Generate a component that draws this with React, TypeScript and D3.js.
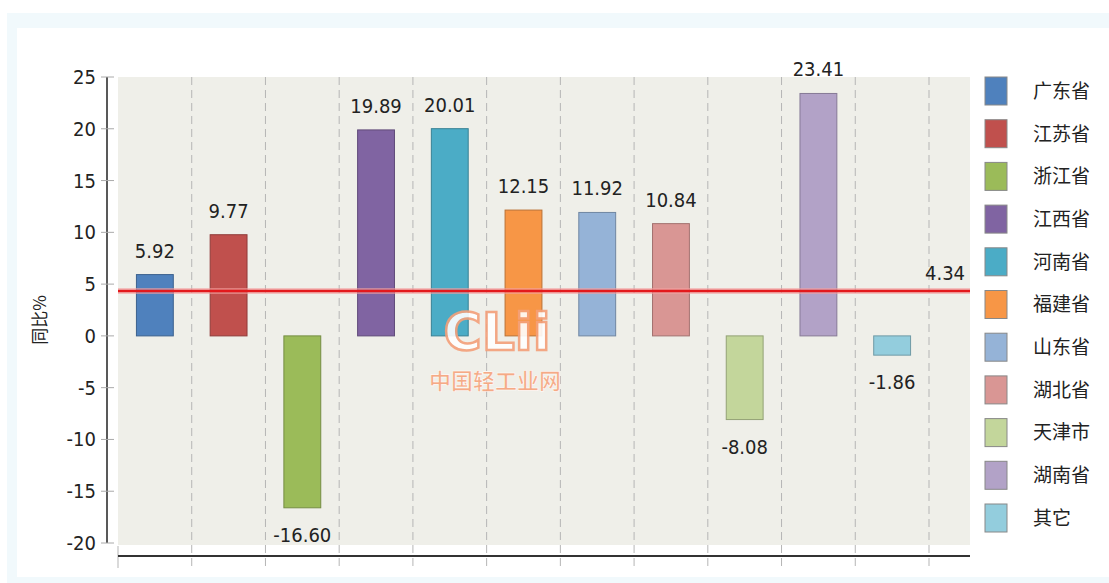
import React from "react";
import * as d3 from "d3";

const categories = ["广东省", "江苏省", "浙江省", "江西省", "河南省", "福建省", "山东省", "湖北省", "天津市", "湖南省", "其它"];
const values = [5.92, 9.77, -16.6, 19.89, 20.01, 12.15, 11.92, 10.84, -8.08, 23.41, -1.86];
const colors = ["#4f81bd", "#c0504d", "#9bbb59", "#8064a2", "#4bacc6", "#f79646", "#95b3d7", "#d99694", "#c3d69b", "#b2a2c7", "#93cddd"];
const average = 4.34;
const yTicks = [25, 20, 15, 10, 5, 0, -5, -10, -15, -20];

const numFont = "'Liberation Sans Narrow', 'DejaVu Sans Condensed', 'Roboto', sans-serif";
const cjkFont = "'Noto Sans CJK SC', sans-serif";

const App = () => {
  const left = 118;
  const right = 970;
  const top = 77;
  const bottom = 543;
  const axisY = 556;

  const x = d3
    .scaleBand()
    .domain(categories)
    .range([left, 929])
    .paddingInner(0.5)
    .paddingOuter(0.25);
  const y = d3.scaleLinear().domain([-20, 25]).range([bottom, top]);
  const step = x.step();
  const grid = categories.map((c) => (x(c) as number) + x.bandwidth() + step * 0.25);

  return (
    <div style={{ position: "absolute", left: 0, top: 0 }}>
      <svg width={1109} height={583} style={{ display: "block" }}>
        <rect x={0} y={0} width={1109} height={583} fill="#fff" />
        <rect x={7} y={13} width={1102} height={570} fill="#f1f9fc" />
        <rect x={17} y={28} width={1092} height={549} fill="#fff" />

        {/* plot background */}
        <rect x={left} y={top} width={right - left} height={bottom - top + 2} fill="#efefe9" />

        {/* dashed grid */}
        {grid.map((gx, i) => (
          <line key={i} x1={gx} x2={gx} y1={top} y2={568} stroke="#b5b5b5" strokeDasharray="8,5" />
        ))}
        <line x1={left} x2={left} y1={546} y2={568} stroke="#b5b5b5" />

        {/* y axis */}
        <line x1={107} x2={107} y1={top} y2={bottom} stroke="#222" strokeWidth={1.5} />
        {yTicks.map((t) => (
          <g key={t}>
            <line x1={101} x2={114} y1={y(t)} y2={y(t)} stroke="#aaa" />
            <text x={96} y={y(t)} dy="0.35em" textAnchor="end" fontFamily={numFont} fontSize={20} fill="#222">
              {t}
            </text>
          </g>
        ))}
        <text
          transform={`translate(46,${(top + bottom) / 2 + 10}) rotate(-90)`}
          textAnchor="middle"
          fontFamily={cjkFont}
          fontSize={17}
          fill="#222"
        >
          同比%
        </text>

        {/* bars */}
        {categories.map((c, i) => {
          const v = values[i];
          const bx = x(c) as number;
          const y0 = y(Math.max(0, v));
          const y1 = y(Math.min(0, v));
          return (
            <g key={c}>
              <rect
                x={bx}
                y={y0}
                width={x.bandwidth()}
                height={y1 - y0}
                fill={colors[i]}
                stroke={d3.color(colors[i])!.darker(0.8).toString()}
                strokeWidth={1}
              />
              <text
                x={bx + x.bandwidth() / 2}
                y={v >= 0 ? y0 - 17 : y1 + 34}
                textAnchor="middle"
                fontFamily={numFont}
                fontSize={20}
                fill="#222"
              >
                {v.toFixed(2)}
              </text>
            </g>
          );
        })}

        {/* average line */}
        <line x1={left} x2={right} y1={y(average)} y2={y(average)} stroke="#f4a0a0" strokeWidth={6} opacity={0.6} />
        <line x1={left} x2={right} y1={y(average)} y2={y(average)} stroke="#e3191c" strokeWidth={2.5} />
        <text x={945} y={y(average) - 11} textAnchor="middle" fontFamily={numFont} fontSize={20} fill="#222">
          {average.toFixed(2)}
        </text>

        {/* x axis */}
        <line x1={left} x2={right} y1={axisY} y2={axisY} stroke="#333" strokeWidth={2} />

        {/* watermark */}
        <g opacity={0.9}>
          <text x={497} y={350} textAnchor="middle" fontFamily="'DejaVu Sans', sans-serif" fontWeight="bold" fontSize={52} fill="#fff" stroke="#f4a07a" strokeWidth={2.5}>
            CLii
          </text>
          <text x={495} y={389} textAnchor="middle" fontFamily={cjkFont} fontWeight="bold" fontSize={22} fill="#f6a37c" stroke="#fff" strokeWidth={0.6}>
            中国轻工业网
          </text>
        </g>

        {/* legend */}
        {categories.map((c, i) => {
          const ly = 77 + i * 42.7;
          return (
            <g key={c}>
              <rect x={985} y={ly} width={22} height={28} fill={colors[i]} stroke="#888" strokeWidth={1} />
              <text x={1033} y={ly + 14} dy="0.36em" fontFamily={cjkFont} fontSize={19} fill="#222">
                {c}
              </text>
            </g>
          );
        })}
      </svg>
    </div>
  );
};

export default App;
